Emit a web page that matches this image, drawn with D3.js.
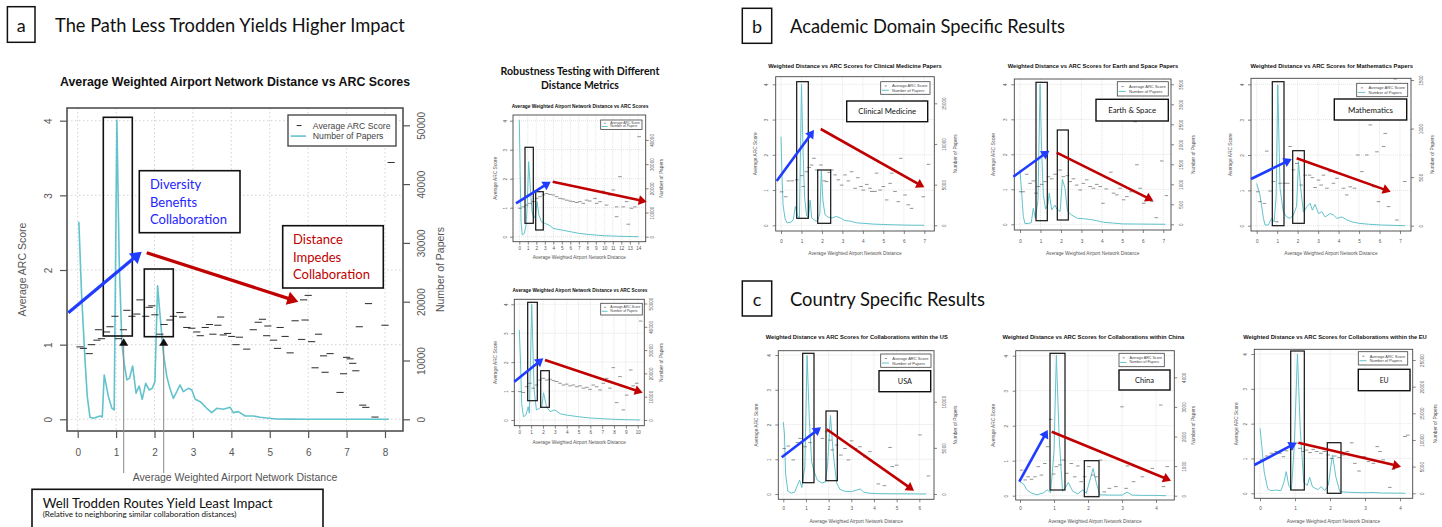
<!DOCTYPE html>
<html><head><meta charset="utf-8">
<script src="https://cdn.jsdelivr.net/npm/d3@7/dist/d3.min.js"></script>
<style>body{margin:0;background:#fff}svg{display:block}</style>
</head><body>
<svg id="c" width="1442" height="527"></svg>
<script>
// ---------------- DATA ----------------
const yTicks = [0, 1, 2, 3, 4];
const mainXTicks = [0,1,2,3,4,5,6,7,8];
const mainRTicks = [0,10000,20000,30000,40000,50000];
const rob1XTicks = [0,1,2,3,4,5,6,7,8,9,10,11,12,13,14];
const rob1RTicks = [0,10000,20000,30000,40000];
const rob2XTicks = [0,1,2,3,4,5,6,7,8,9,10];
const rob2RTicks = [0,10000,20000,30000,40000,50000];
const clinXTicks = [0,1,2,3,4,5,6,7];
const clinRTicks = [0,5000,10000,15000];
const earthXTicks = [0,1,2,3,4,5,6,7];
const earthRTicks = [0,500,1000,1500,2000,2500,3000,3500];
const mathXTicks = [0,1,2,3,4,5,6,7];
const mathRTicks = [0,500,1000,1500];
const usaXTicks = [0,1,2,3,4,5,6];
const usaRTicks = [0,5000,10000];
const chinaXTicks = [0,1,2,3,4];
const chinaRTicks = [0,1000,2000,3000,4000];
const euXTicks = [0,1,2,3,4];
const euRTicks = [0,5000,10000,15000,20000,25000];

// [distance, average ARC score]
const mainArc = [[0.06,0.97],[0.15,0.95],[0.3,0.88],[0.36,1.0],[0.5,1.06],[0.54,1.2],[0.62,1.08],[0.75,1.17],[0.84,1.24],[0.97,1.38],[1.06,1.08],[1.19,1.2],[1.28,1.46],[1.41,1.38],[1.54,1.41],[1.62,1.6],[1.77,1.38],[1.86,1.5],[1.93,1.52],[2.01,1.4],[2.14,1.14],[2.25,1.27],[2.4,1.33],[2.49,1.38],[2.66,1.43],[2.73,1.37],[2.84,1.23],[2.97,1.22],[3.1,1.17],[3.19,1.12],[3.32,1.23],[3.43,1.27],[3.52,1.14],[3.65,1.26],[3.72,1.37],[3.79,1.13],[3.9,1.15],[4.01,1.11],[4.12,1.0],[4.21,1.1],[4.4,0.94],[4.57,1.2],[4.7,1.3],[4.81,1.34],[4.92,1.12],[4.95,1.25],[5.1,1.06],[5.2,0.95],[5.27,1.23],[5.4,1.11],[5.53,0.89],[5.66,1.32],[5.83,1.07],[5.88,1.6],[5.92,1.33],[6.0,1.66],[6.09,1.04],[6.18,0.69],[6.27,1.14],[6.4,0.85],[6.44,0.63],[6.57,0.88],[6.83,0.36],[6.92,0.61],[7.0,0.83],[7.09,0.81],[7.16,0.75],[7.24,0.65],[7.33,1.24],[7.42,0.19],[7.5,0.16],[7.57,1.55],[7.74,0.03],[8.0,1.26],[8.16,3.44]];
// [distance, number of papers]
const mainPapers = [[0.03,33600],[0.1,21400],[0.19,10100],[0.25,3850],[0.32,340],[0.41,170],[0.58,570],[0.64,400],[0.69,7540],[0.8,3850],[0.89,1870],[0.95,1590],[1.02,50900],[1.08,27100],[1.15,12900],[1.21,9500],[1.28,6700],[1.35,7000],[1.43,9070],[1.52,4420],[1.6,5670],[1.68,3400],[1.77,6120],[1.86,4990],[1.94,5270],[2.01,6400],[2.08,22700],[2.14,18000],[2.23,11200],[2.32,7260],[2.4,5270],[2.49,3570],[2.58,4710],[2.66,5840],[2.75,4710],[2.88,5270],[2.97,4990],[3.06,3400],[3.19,3000],[3.36,1870],[3.49,1130],[3.62,1870],[3.79,1700],[3.97,2040],[4.05,1130],[4.18,1300],[4.36,570],[4.57,570],[4.75,340],[4.92,230],[5.18,60],[5.5,30],[6.0,20],[7.0,10],[8.1,0]];

const rob1Arc = [[0.08,0.98],[0.47,1.03],[0.86,1.09],[1.25,1.15],[1.65,1.21],[2.04,1.32],[2.43,1.38],[2.82,1.44],[3.2,1.49],[3.6,1.46],[4.0,1.44],[4.39,1.38],[4.78,1.32],[5.18,1.3],[5.57,1.26],[5.96,1.23],[6.35,1.21],[6.75,1.18],[7.14,1.21],[7.53,1.15],[7.92,1.26],[8.3,1.23],[8.9,1.32],[9.1,1.15],[9.5,1.21],[9.88,1.57],[10.27,1.09],[10.67,1.44],[11.06,1.61],[11.45,1.03],[11.45,0.69],[11.84,2.07],[12.23,1.03],[12.63,1.21],[12.82,0.43],[13.2,0.98],[13.6,1.03],[14.1,3.45]];
const rob1Papers = [[0,48200],[0.1,26900],[0.2,6200],[0.35,700],[0.6,1400],[0.8,4800],[0.95,14500],[1.1,31000],[1.3,20000],[1.5,10300],[1.7,7600],[1.9,9000],[2.1,14500],[2.3,9000],[2.6,6200],[3.0,5500],[3.5,4800],[4.0,3400],[5.0,2750],[6.0,2070],[7.0,1400],[8.0,960],[9.0,690],[10.0,400],[11.0,280],[12.0,140],[14.0,0]];

const rob2Arc = [[0.06,0.98],[0.34,0.95],[0.62,1.15],[0.9,1.27],[1.18,1.1],[1.46,1.21],[1.75,1.38],[2.03,1.44],[2.31,1.38],[2.59,1.41],[2.87,1.36],[3.15,1.33],[3.44,1.27],[3.72,1.21],[4.0,1.24],[4.28,1.18],[4.56,1.21],[4.85,1.15],[5.13,1.18],[5.41,1.1],[5.69,1.13],[5.97,1.06],[6.25,1.21],[6.54,1.15],[6.82,1.04],[7.1,1.27],[7.38,1.44],[7.66,1.1],[7.94,1.81],[8.22,0.6],[8.5,1.5],[8.79,0.35],[9.07,0.86],[9.41,1.73],[9.63,1.18],[9.92,1.27],[10.25,3.42]];
const rob2Papers = [[0,38600],[0.1,25700],[0.2,7100],[0.35,1400],[0.55,2100],[0.75,5700],[0.85,2900],[1.05,49600],[1.25,12900],[1.45,4300],[1.7,5000],[1.9,5700],[2.05,11700],[2.3,5700],[2.6,3600],[3.0,4300],[3.5,2600],[4.0,2100],[5.0,1400],[6.0,860],[7.0,570],[8.0,290],[9.0,140],[10.2,0]];

const clinArc = [[0.03,0.95],[0.23,0.81],[0.36,1.26],[0.55,1.26],[0.77,1.29],[1.01,1.41],[1.09,1.1],[1.25,1.52],[1.37,1.64],[1.5,1.71],[1.61,1.9],[1.74,1.57],[1.95,1.71],[2.12,1.26],[2.23,1.24],[2.35,1.5],[2.48,1.57],[2.64,1.43],[2.8,1.29],[2.96,1.14],[3.13,1.43],[3.29,1.26],[3.45,1.52],[3.62,1.05],[3.75,1.35],[3.91,1.1],[4.02,1.0],[4.19,1.16],[4.35,1.05],[4.43,0.96],[4.59,0.96],[4.67,1.48],[4.84,1.0],[5.0,1.1],[5.16,0.72],[5.33,1.19],[5.41,1.48],[5.57,0.96],[5.73,0.67],[5.85,1.9],[6.06,0.86],[6.22,0.58],[6.38,0.48],[6.95,0.81],[7.2,1.73]];
const clinPapers = [[0,10900],[0.05,6000],[0.1,2500],[0.2,800],[0.3,300],[0.5,400],[0.6,700],[0.7,2300],[0.8,1200],[0.9,900],[1.0,17300],[1.08,9000],[1.15,3500],[1.25,1200],[1.35,1000],[1.42,3100],[1.5,900],[1.6,700],[1.7,500],[1.8,600],[1.9,1500],[1.97,6700],[2.05,3000],[2.15,1300],[2.3,1000],[2.5,900],[2.7,1100],[2.9,900],[3.1,600],[3.4,500],[3.7,300],[4.0,250],[4.5,150],[5.0,100],[5.5,60],[6.0,30],[6.5,10],[7.0,0]];

const earthArc = [[0.03,0.93],[0.16,0.93],[0.33,1.43],[0.49,1.17],[0.65,1.24],[0.78,0.89],[0.9,1.08],[1.06,1.14],[1.22,1.22],[1.39,1.36],[1.55,1.3],[1.71,1.43],[1.96,1.55],[2.12,1.36],[2.32,1.39],[2.45,1.22],[2.61,1.3],[2.77,1.12],[2.94,0.98],[3.1,1.17],[3.26,1.27],[3.43,1.08],[3.59,1.03],[3.75,1.14],[3.92,1.08],[4.05,0.6],[4.21,1.01],[4.44,1.49],[4.57,0.89],[4.73,0.84],[4.89,1.03],[5.06,0.7],[5.22,0.79],[5.42,0.93],[5.63,2.93],[5.71,1.7],[5.87,1.03],[6.04,0.6],[6.2,0.76],[6.44,0.65],[6.66,0.19],[6.93,1.81],[7.15,0.82]];
const earthPapers = [[0,1350],[0.08,800],[0.16,200],[0.24,20],[0.4,20],[0.55,40],[0.65,400],[0.75,150],[0.88,600],[0.98,3500],[1.06,1800],[1.14,730],[1.25,380],[1.36,500],[1.43,775],[1.55,360],[1.63,420],[1.71,480],[1.8,380],[1.96,320],[2.07,1125],[2.2,900],[2.32,320],[2.53,230],[2.8,150],[3.1,140],[3.43,120],[3.75,90],[4.08,50],[4.57,30],[5.0,10],[6.0,5],[7.1,0]];

const mathArc = [[0.05,0.96],[0.16,0.68],[0.38,0.63],[0.49,2.11],[0.65,0.98],[0.82,1.25],[0.98,0.11],[1.14,1.2],[1.35,1.2],[1.52,1.2],[1.63,2.24],[1.79,1.58],[1.96,1.76],[2.17,1.15],[2.37,1.43],[2.58,1.43],[2.72,1.36],[2.85,1.08],[3.02,1.29],[3.15,1.15],[3.26,1.43],[3.43,1.06],[3.59,1.53],[3.75,1.2],[3.92,1.34],[4.08,1.48],[4.24,1.06],[4.4,0.87],[4.57,1.1],[4.78,1.06],[4.94,2.0],[5.14,1.53],[5.38,2.0],[5.55,2.85],[5.71,1.1],[5.87,2.09],[5.95,0.68],[6.2,2.24],[6.28,2.61],[6.44,0.54],[6.77,4.15],[6.85,0.16],[7.23,1.25]];
const mathPapers = [[0,435],[0.16,315],[0.33,75],[0.41,7],[0.57,7],[0.73,75],[0.85,40],[0.95,300],[1.03,1450],[1.14,385],[1.3,140],[1.47,90],[1.63,75],[1.79,110],[1.95,200],[2.04,660],[2.15,385],[2.28,140],[2.45,195],[2.61,230],[2.72,160],[2.85,220],[3.02,125],[3.18,145],[3.34,90],[3.59,125],[3.75,110],[3.92,75],[4.16,90],[4.4,60],[4.65,40],[4.98,25],[5.47,15],[6.1,7],[7.25,0]];

const usaArc = [[0.04,1.31],[0.22,1.38],[0.44,0.98],[0.63,1.48],[0.74,1.6],[0.96,1.36],[1.18,1.48],[1.4,1.75],[1.54,1.84],[1.72,1.6],[1.91,1.79],[2.06,1.55],[2.16,1.27],[2.35,1.41],[2.54,1.12],[2.72,1.31],[2.87,0.98],[3.01,1.53],[3.19,1.31],[3.38,1.36],[3.6,1.07],[3.82,1.22],[4.04,0.88],[4.19,0.29],[4.46,0.24],[4.71,1.34],[4.81,0.79],[5.0,0.83],[6.03,1.7],[6.4,0.52]];
const usaPapers = [[0,7800],[0.05,6500],[0.1,2200],[0.2,300],[0.35,100],[0.5,200],[0.6,800],[0.72,1500],[0.82,700],[0.95,3000],[1.05,15000],[1.15,8000],[1.25,3500],[1.35,2500],[1.5,1500],[1.7,1200],[1.85,1300],[1.95,3000],[2.08,8500],[2.2,4500],[2.35,1200],[2.5,500],[2.7,300],[3.0,250],[3.2,400],[3.4,550],[3.55,200],[3.8,80],[4.2,40],[5.0,20],[6.0,10],[6.3,0]];

const chinaArc = [[0.05,0.73],[0.15,0.45],[0.24,0.54],[0.34,0.47],[0.44,0.54],[0.54,0.83],[0.63,0.59],[0.73,0.92],[0.81,1.4],[0.9,2.18],[0.99,0.62],[1.07,0.83],[1.17,0.88],[1.27,1.02],[1.38,0.64],[1.51,0.92],[1.61,0.54],[1.7,0.85],[1.8,0.4],[1.9,0.54],[2.03,0.83],[2.14,0.59],[2.24,0.54],[2.37,1.02],[2.48,0.11],[2.63,0.21],[2.82,0.26],[3.0,2.54],[3.12,0.21],[3.16,0.85],[3.34,0.4],[3.6,0.54],[3.89,0.78],[4.14,2.59],[4.22,0.26],[4.33,0.83]];
const chinaPapers = [[0,470],[0.1,400],[0.2,200],[0.35,80],[0.5,30],[0.7,100],[0.8,200],[0.9,100],[1.0,1500],[1.07,4750],[1.15,2000],[1.25,150],[1.35,300],[1.42,450],[1.55,150],[1.7,60],[1.85,200],[1.95,80],[2.05,500],[2.15,920],[2.25,400],[2.35,30],[2.6,20],[3.0,20],[3.15,120],[3.3,20],[3.6,10],[4.0,10],[4.3,0]];

const euArc = [[0.05,0.96],[0.19,1.07],[0.33,1.15],[0.46,1.2],[0.57,1.15],[0.67,1.05],[0.76,1.22],[0.9,1.26],[1.03,1.44],[1.14,1.29],[1.24,1.2],[1.33,1.24],[1.43,1.17],[1.52,1.26],[1.62,1.2],[1.74,1.15],[1.84,1.2],[1.95,1.1],[2.05,1.0],[2.14,1.07],[2.26,1.03],[2.38,1.1],[2.5,1.2],[2.62,1.45],[2.71,0.86],[2.83,0.64],[2.98,1.05],[3.1,0.91],[3.24,0.86],[3.35,1.34],[3.43,1.2],[3.52,0.96],[3.71,0.17],[3.81,0.69],[4.14,1.63],[4.22,1.67]];
const euPapers = [[0,12200],[0.05,9000],[0.12,4000],[0.22,900],[0.3,500],[0.45,600],[0.6,500],[0.68,2000],[0.75,4060],[0.82,1500],[0.9,800],[0.98,9000],[1.07,26100],[1.15,12000],[1.25,2000],[1.35,1500],[1.42,3000],[1.5,1200],[1.65,700],[1.75,1250],[1.85,500],[1.95,1500],[2.07,7200],[2.17,3000],[2.28,300],[2.5,200],[3.0,100],[3.2,150],[3.5,50],[4.0,30],[4.15,0]];

// ---------------- LAYOUT / STYLE ----------------
const FONT = '"Liberation Sans", Arial, sans-serif';
const CAL = 'Lato, "Open Sans", sans-serif';
const CYAN = '#62c3cc';
const BLUE = '#1f3cff';
const RED = '#c00000';
const svg = d3.select('#c');
svg.append('rect').attr('width',1442).attr('height',527).attr('fill','#fff');

function fitText(t, w){
  const L = t.node().getComputedTextLength();
  if (L > 0) { const fs = parseFloat(t.attr('font-size')); t.attr('font-size', (fs*w/L).toFixed(2)); }
  return t;
}

const small = {k:0.46, tickFs:4.6, labFs:4.8, legFs:3.8, tickLen:3, dash:1.8, dashW:0.7, dashCol:'#666', lineW:1, frameW:0.9, gridW:0.5, titleFs:5.5};
const big = {k:1, tickFs:10, labFs:10.5, legFs:9, tickLen:7, dash:3.6, dashW:1.05, dashCol:'#333', lineW:1.6, frameW:1.5, gridW:0.8, titleFs:13};

const T1 = 'Average Weighted Airport Network Distance vs ARC Scores';
const cfgMain = Object.assign({}, big, {frame:[67,403,108,431], xMax:8, x0:77.7, xM:385, y0:419.3, y4:120.7, rMax:50000, rM:125.3,
  title:T1, tx:235, ty:82, tw:350, xtl:452, xl:477, ytl:48, yl:22, rtl:421.7, rl:440, legend:[288,396,115,146]});
const cfgRob1 = Object.assign({}, small, {frame:[513,645.7,115,241.7], xMax:14, x0:519.3, xM:638.3, y0:236.7, y4:120.7, rMax:40000, rM:139.9,
  title:T1, tx:580, ty:106, tw:137, xtl:248.3, xl:257.7, ytl:505.5, yl:495, rtl:652.7, rl:661, legend:[600.7,642,120,129.5]});
const cfgRob2 = Object.assign({}, small, {frame:[514.3,644.3,299.3,425.7], xMax:10, x0:519.3, xM:637.7, y0:420, y4:304.3, rMax:50000, rM:303.5,
  title:T1, tx:580, ty:290, tw:135, xtl:432.7, xl:442.7, ytl:506, yl:495, rtl:651.7, rl:661.7, legend:[600.7,642.3,303.3,315]});
const cfgClin = Object.assign({}, small, {frame:[775.7,934.3,76.7,231], xMax:7, x0:781, xM:924.3, y0:225.3, y4:84.3, rMax:15000, rM:103.3,
  title:'Weighted Distance vs ARC Scores for Clinical Medicine Papers', tx:855, ty:66, tw:174, xtl:241, xl:253, ytl:766.7, yl:755.7, rtl:944.3, rl:955, legend:[880.7,930,81.7,94.3]});
const cfgEarth = Object.assign({}, small, {frame:[1014.3,1171,79,230], xMax:7, x0:1020, xM:1163.3, y0:224.3, y4:84.3, rMax:3500, rM:84.3,
  title:'Weighted Distance vs ARC Scores for Earth and Space Papers', tx:1093, ty:66, tw:171, xtl:241, xl:253, ytl:1005.3, yl:993.3, rtl:1181, rl:1193.3, legend:[1117.3,1168.3,81.7,96]});
const cfgMath = Object.assign({}, small, {frame:[1251,1411,78.3,231], xMax:7, x0:1256.7, xM:1400, y0:225.7, y4:84.3, rMax:1500, rM:80,
  title:'Weighted Distance vs ARC Scores for Mathematics Papers', tx:1331.7, ty:66, tw:163, xtl:241, xl:253, ytl:1242, yl:1230, rtl:1421, rl:1432, legend:[1356.7,1407.7,83.3,96.7]});
const cfgUsa = Object.assign({}, small, {frame:[778.3,934,350.7,499.3], xMax:6, x0:783.3, xM:919.3, y0:494, y4:355, rMax:10000, rM:401.7,
  title:'Weighted Distance vs ARC Scores for Collaborations within the US', tx:856.7, ty:337.3, tw:182, xtl:508.3, xl:521, ytl:769.3, yl:756.7, rtl:944, rl:955, legend:[880.7,931,354,367.3]});
const cfgChina = Object.assign({}, small, {frame:[1015.7,1174.3,350.7,500], xMax:4, x0:1020, xM:1156, y0:495.7, y4:355.7, rMax:4000, rM:377.3,
  title:'Weighted Distance vs ARC Scores for Collaborations within China', tx:1093.3, ty:337.3, tw:182, xtl:508.3, xl:521, ytl:1006.7, yl:993.3, rtl:1184.3, rl:1193.3, legend:[1119,1164.3,353.3,366.7]});
const cfgEu = Object.assign({}, small, {frame:[1254.3,1412.7,349.3,498.3], xMax:4, x0:1260, xM:1400, y0:493.3, y4:354, rMax:25000, rM:360,
  title:'Weighted Distance vs ARC Scores for Collaborations within the EU', tx:1335, ty:337.3, tw:184, xtl:508.3, xl:521, ytl:1245.3, yl:1236.7, rtl:1422.7, rl:1435, legend:[1358.3,1407.7,351.7,365]});

function styleAxis(a, c){
  a.select('.domain').remove();
  a.attr('font-size', c.tickFs).attr('font-family', FONT);
  a.selectAll('line').attr('stroke','#555').attr('stroke-width', c.frameW*0.8);
  a.selectAll('text').attr('fill','#555');
}

function drawChart(c, arc, papers, xTicks, rTicks){
  const g = svg.append('g');
  const [fx0,fx1,fy0,fy1] = c.frame;
  const x = d3.scaleLinear().domain([0,c.xMax]).range([c.x0,c.xM]);
  const y = d3.scaleLinear().domain([0,4]).range([c.y0,c.y4]);
  const yr = d3.scaleLinear().domain([0,c.rMax]).range([c.y0,c.rM]);
  const da = c.k > 0.8 ? '1.5,2.5' : '1,1';
  g.append('g').selectAll('line').data(xTicks).join('line')
    .attr('x1',d=>x(d)).attr('x2',d=>x(d)).attr('y1',fy0).attr('y2',fy1)
    .attr('stroke','#c8c8c8').attr('stroke-width',c.gridW).attr('stroke-dasharray',da);
  g.append('g').selectAll('line').data(yTicks).join('line')
    .attr('x1',fx0).attr('x2',fx1).attr('y1',d=>y(d)).attr('y2',d=>y(d))
    .attr('stroke','#c8c8c8').attr('stroke-width',c.gridW).attr('stroke-dasharray',da);
  g.append('path').datum(papers).attr('fill','none').attr('stroke',CYAN).attr('stroke-width',c.lineW)
    .attr('stroke-linejoin','round').attr('d', d3.line().x(d=>x(d[0])).y(d=>yr(d[1])));
  g.append('g').selectAll('line').data(arc).join('line')
    .attr('x1',d=>x(d[0])-c.dash).attr('x2',d=>x(d[0])+c.dash)
    .attr('y1',d=>y(d[1])).attr('y2',d=>y(d[1]))
    .attr('stroke',c.dashCol).attr('stroke-width',c.dashW);
  g.append('rect').attr('x',fx0).attr('y',fy0).attr('width',fx1-fx0).attr('height',fy1-fy0)
    .attr('fill','none').attr('stroke','#444').attr('stroke-width',c.frameW);
  const fmt = d3.format('d');
  const ax = g.append('g').attr('transform',`translate(0,${fy1})`)
    .call(d3.axisBottom(x).tickValues(xTicks).tickSize(c.tickLen).tickFormat(fmt));
  styleAxis(ax,c);
  ax.selectAll('text').attr('y', c.xtl-fy1).attr('dy','0.35em');
  const ay = g.append('g').attr('transform',`translate(${fx0},0)`)
    .call(d3.axisLeft(y).tickValues(yTicks).tickSize(c.tickLen).tickFormat(fmt));
  styleAxis(ay,c);
  ay.selectAll('text').attr('x',0).attr('dy',null).attr('text-anchor','middle').attr('dominant-baseline','central')
    .attr('transform',`translate(${c.ytl-fx0},0) rotate(-90)`);
  const ar = g.append('g').attr('transform',`translate(${fx1},0)`)
    .call(d3.axisRight(yr).tickValues(rTicks).tickSize(c.tickLen).tickFormat(fmt));
  styleAxis(ar,c);
  ar.selectAll('text').attr('x',0).attr('dy',null).attr('text-anchor','middle').attr('dominant-baseline','central')
    .attr('transform',`translate(${c.rtl-fx1},0) rotate(-90)`);
  // labels
  const cy = (fy0+fy1)/2;
  g.append('text').attr('x',(fx0+fx1)/2).attr('y',c.xl).attr('text-anchor','middle').attr('dominant-baseline','central')
    .attr('font-family',FONT).attr('font-size',c.labFs).attr('fill','#555').text('Average Weighted Airport Network Distance');
  g.append('text').attr('transform',`translate(${c.yl},${cy}) rotate(-90)`).attr('text-anchor','middle').attr('dominant-baseline','central')
    .attr('font-family',FONT).attr('font-size',c.labFs).attr('fill','#555').text('Average ARC Score');
  g.append('text').attr('transform',`translate(${c.rl},${cy}) rotate(-90)`).attr('text-anchor','middle').attr('dominant-baseline','central')
    .attr('font-family',FONT).attr('font-size',c.labFs).attr('fill','#555').text('Number of Papers');
  const tt = g.append('text').attr('x',c.tx).attr('y',c.ty).attr('text-anchor','middle').attr('dominant-baseline','central')
    .attr('font-family',FONT).attr('font-weight','bold').attr('font-size',c.titleFs).attr('fill','#111').text(c.title);
  fitText(tt, c.tw);
  // legend
  const [lx0,lx1,ly0,ly1] = c.legend; const lw = lx1-lx0, lh = ly1-ly0;
  g.append('rect').attr('x',lx0).attr('y',ly0).attr('width',lw).attr('height',lh).attr('fill','#fff')
    .attr('stroke','#444').attr('stroke-width',c.frameW*0.9);
  const e1 = ly0+lh*0.34, e2 = ly0+lh*0.68;
  g.append('line').attr('x1',lx0+lw*0.08).attr('x2',lx0+lw*0.125).attr('y1',e1).attr('y2',e1).attr('stroke',c.dashCol).attr('stroke-width',c.dashW);
  g.append('line').attr('x1',lx0+lw*0.025).attr('x2',lx0+lw*0.167).attr('y1',e2).attr('y2',e2).attr('stroke',CYAN).attr('stroke-width',c.lineW);
  const l1 = g.append('text').attr('x',lx0+lw*0.23).attr('y',e1).attr('dominant-baseline','central').attr('font-family',FONT)
    .attr('font-size',c.legFs).attr('fill','#444').text('Average ARC Score');
  fitText(l1, lw*0.72);
  g.append('text').attr('x',lx0+lw*0.23).attr('y',e2).attr('dominant-baseline','central').attr('font-family',FONT)
    .attr('font-size',l1.attr('font-size')).attr('fill','#444').text('Number of Papers');
}

drawChart(cfgMain, mainArc, mainPapers, mainXTicks, mainRTicks);
drawChart(cfgRob1, rob1Arc, rob1Papers, rob1XTicks, rob1RTicks);
drawChart(cfgRob2, rob2Arc, rob2Papers, rob2XTicks, rob2RTicks);
drawChart(cfgClin, clinArc, clinPapers, clinXTicks, clinRTicks);
drawChart(cfgEarth, earthArc, earthPapers, earthXTicks, earthRTicks);
drawChart(cfgMath, mathArc, mathPapers, mathXTicks, mathRTicks);
drawChart(cfgUsa, usaArc, usaPapers, usaXTicks, usaRTicks);
drawChart(cfgChina, chinaArc, chinaPapers, chinaXTicks, chinaRTicks);
drawChart(cfgEu, euArc, euPapers, euXTicks, euRTicks);

// ---------------- ANNOTATIONS ----------------
const ann = svg.append('g');
function box(x0,y0,x1,y1,w,fill){
  ann.append('rect').attr('x',x0).attr('y',y0).attr('width',x1-x0).attr('height',y1-y0)
    .attr('fill',fill||'none').attr('stroke','#111').attr('stroke-width',w);
}
function arrow(x1,y1,x2,y2,col,w,hl){
  const a = Math.atan2(y2-y1,x2-x1), hw = hl*0.62;
  const bx = x2-hl*Math.cos(a), by = y2-hl*Math.sin(a);
  ann.append('line').attr('x1',x1).attr('y1',y1).attr('x2',bx+Math.cos(a)).attr('y2',by+Math.sin(a))
    .attr('stroke',col).attr('stroke-width',w);
  ann.append('path').attr('fill',col)
    .attr('d',`M${x2},${y2}L${bx+hw*Math.sin(a)},${by-hw*Math.cos(a)}L${bx-hw*Math.sin(a)},${by+hw*Math.cos(a)}Z`);
}
function labelBox(x0,y0,x1,y1,txt,w){
  box(x0,y0,x1,y1,1.4,'#fff');
  const t = ann.append('text').attr('x',(x0+x1)/2).attr('y',(y0+y1)/2).attr('text-anchor','middle').attr('dominant-baseline','central')
    .attr('font-family',CAL).attr('font-size',9).attr('fill','#111').text(txt);
  fitText(t,w);
}

// panel headers
function header(x0,y0,x1,y1,letter,title,tx,tw){
  box(x0,y0,x1,y1,1.5,'#fff');
  ann.append('text').attr('x',(x0+x1)/2).attr('y',(y0+y1)/2).attr('text-anchor','middle').attr('dominant-baseline','central')
    .attr('font-family',CAL).attr('font-size',18).attr('fill','#111').text(letter);
  const t = ann.append('text').attr('x',tx).attr('y',(y0+y1)/2).attr('dominant-baseline','central')
    .attr('font-family',CAL).attr('font-size',19).attr('fill','#111').text(title);
  fitText(t,tw);
}
header(7.4,6.7,35,42.3,'a','The Path Less Trodden Yields Higher Impact',55,350);
header(742.3,8.3,771.7,43.3,'b','Academic Domain Specific Results',790,275);
header(742.3,281,771.7,316,'c','Country Specific Results',790,195);

// robustness title
[['Robustness Testing with Different',71,159],['Distance Metrics',85,78]].forEach(([s,yy,w])=>{
  const t = ann.append('text').attr('x',580).attr('y',yy).attr('text-anchor','middle').attr('dominant-baseline','central')
    .attr('font-family',CAL).attr('font-weight','bold').attr('font-size',11).attr('fill','#111').text(s);
  fitText(t,w);
});

// main chart annotations
box(103.3,117.3,132.3,336,1.6);
box(144.3,269,173.3,336.7,1.6);
box(139.3,170.7,240,232.7,1.6,'#fff');
box(282.7,225.7,383.3,288,1.6,'#fff');
{
  const a = ['Diversity','Benefits','Collaboration'];
  const b = ['Distance','Impedes','Collaboration'];
  const probe = ann.append('text').attr('font-family',CAL).attr('font-size',14).text('Collaboration');
  fitText(probe,77); const fs = probe.attr('font-size'); probe.remove();
  a.forEach((s,i)=>ann.append('text').attr('x',150).attr('y',184.3+i*17.3).attr('dominant-baseline','central')
    .attr('font-family',CAL).attr('font-size',fs).attr('fill','#2424ff').text(s));
  b.forEach((s,i)=>ann.append('text').attr('x',293).attr('y',239.3+i*17.3).attr('dominant-baseline','central')
    .attr('font-family',CAL).attr('font-size',fs).attr('fill',RED).text(s));
}
arrow(68.3,312.7,141.7,251.7,BLUE,3.2,11);
arrow(146.7,252.7,298.3,301.7,RED,3.2,11);
[[123.7,341.7],[163.7,341.7]].forEach(([tx,ty])=>{
  ann.append('line').attr('x1',tx).attr('x2',tx).attr('y1',ty+4).attr('y2',473).attr('stroke','#888').attr('stroke-width',1);
  ann.append('path').attr('fill','#111').attr('d',`M${tx},${ty-3.5}L${tx+4.5},${ty+4}L${tx-4.5},${ty+4}Z`);
});
box(32,489.3,323,540,1.6,'#fff');
{
  const t1 = ann.append('text').attr('x',42.7).attr('y',503).attr('dominant-baseline','central').attr('font-family',CAL)
    .attr('font-size',14).attr('fill','#111').text('Well Trodden Routes Yield Least Impact');
  fitText(t1,230);
  const t2 = ann.append('text').attr('x',42.7).attr('y',513.5).attr('dominant-baseline','central').attr('font-family',CAL)
    .attr('font-size',7).attr('fill','#111').text('(Relative to neighboring similar collaboration distances)');
  fitText(t2,194);
}

// robustness annotations
box(525,147.3,533.3,223.3,1.2); box(535.7,191.7,543.3,230,1.2);
arrow(516,203.3,550.7,181.7,BLUE,2.6,8);
arrow(552.7,181.7,646.7,201.7,RED,2.6,8);
box(527.7,302.3,537.3,400.7,1.2); box(540.7,370.7,549.3,407.3,1.2);
arrow(514.3,381.7,543.3,358.3,BLUE,2.6,8);
arrow(545,360,642.7,392.7,RED,2.6,8);

// domain annotations
box(796.7,81.7,808.3,218.3,1.2); box(817.7,170,830.7,223.3,1.2);
labelBox(846.7,101,927.7,121.7,'Clinical Medicine',58);
arrow(776.7,181,814,130,BLUE,2.6,8); arrow(820.7,129,924.3,187.3,RED,2.6,8);

box(1036,82.3,1047.3,220.7,1.2); box(1057.3,130,1068.3,220,1.2);
labelBox(1096,99.3,1168.3,121,'Earth & Space',48);
arrow(1013.3,176.7,1049.3,150.7,BLUE,2.6,8); arrow(1056.7,152.7,1153.3,200.7,RED,2.6,8);

box(1272.3,81.7,1284,225.7,1.2); box(1292.7,150.7,1304.3,223.3,1.2);
labelBox(1334.3,99,1406.7,120,'Mathematics',45);
arrow(1251,179,1291.7,159,BLUE,2.6,8); arrow(1296.7,158.3,1390.7,191.7,RED,2.6,8);

// country annotations
box(802.7,353.3,814,482.7,1.2); box(826,411,837.3,480.7,1.2);
labelBox(879,370.7,930.7,391.7,'USA',14);
arrow(781.7,457.3,821,427.3,BLUE,2.6,8); arrow(826.7,429.3,914,490.7,RED,2.6,8);

box(1050,353.3,1065,490,1.2); box(1084.3,460.7,1099,496.7,1.2);
labelBox(1119,370,1170,390,'China',19);
arrow(1019.3,481.7,1047.7,430,BLUE,2.6,8); arrow(1051.7,431.7,1171,480.7,RED,2.6,8);

box(1290.7,351,1304.3,490,1.2); box(1327.3,442.7,1341,493.3,1.2);
labelBox(1358.3,369.3,1410,390.7,'EU',9);
arrow(1254.3,465,1296.7,442.7,BLUE,2.6,8); arrow(1298.3,442.7,1401,466.7,RED,2.6,8);
</script>
</body></html>
